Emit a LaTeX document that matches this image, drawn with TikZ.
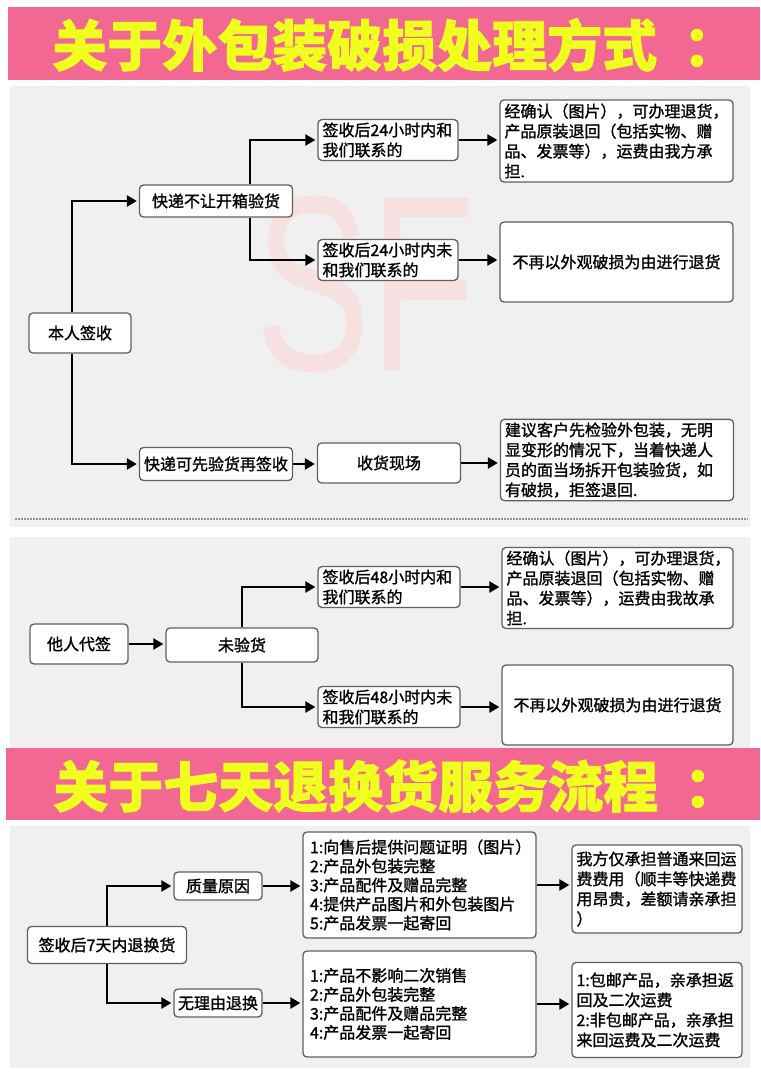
\documentclass[tikz,border=0pt]{standalone}
\usepackage{fontspec}
\setmainfont{Noto Sans CJK SC}[FakeBold=1.3]
\newfontfamily\bannerfont{Noto Sans CJK SC}[BoldFeatures={FakeBold=1.6}]
\newfontfamily\wmfont{Liberation Sans}
\usetikzlibrary{arrows.meta}
\definecolor{bannerpink}{RGB}{243,104,146}
\definecolor{banneryellow}{RGB}{240,255,30}
\definecolor{panelgray}{RGB}{240,240,240}
\definecolor{boxborder}{RGB}{96,96,96}
\definecolor{wmpink}{RGB}{246,224,224}
\definecolor{dotgray}{RGB}{150,150,150}
\begin{document}
\begin{tikzpicture}[x=1pt,y=-1pt,
  box/.style={draw=boxborder, line width=1.3pt, rounded corners=4pt, fill=white,
    inner xsep=4.5pt, inner ysep=3pt, font=\fontsize{16}{20}\selectfont},
  cbox/.style={box, align=center},
  lbox/.style={box, align=left},
  arr/.style={line width=2.4pt, -{Triangle[length=10pt,width=11pt]}, shorten >=2pt},
  bannertext/.style={font=\fontsize{55}{60}\selectfont\bannerfont\bfseries, text=banneryellow, anchor=west, inner sep=0pt},
  wm/.style={font=\fontsize{250}{250}\wmfont, text=wmpink}
]
\useasboundingbox (0,0) rectangle (760,1078);
\fill[white] (0,0) rectangle (760,1078);
% banners and panels
\fill[bannerpink] (8,7) rectangle (760,80);
\fill[panelgray] (10,86) rectangle (750,527);
\fill[panelgray] (10,537) rectangle (750,750);
\fill[bannerpink] (6,748) rectangle (760,820);
\fill[panelgray] (10,826) rectangle (750,1068);
\node[bannertext] (t1) at (52,45) {关于外包装破损处理方式\hspace{26pt}：};
\node[bannertext] (t2) at (53,786) {关于七天退换货服务流程\hspace{26pt}：};
% watermark
\node[wm] (wmark) at (366,284) {\scalebox{0.69}[1]{SF}};
% dotted separator
\coordinate (dl) at (15,519);
\coordinate (dr) at (748,519);
\draw[dotgray, line width=1.6pt, dash pattern=on 1.6pt off 1.4pt] (dl) -- (dr);

% ---------- section 1 ----------
\node[cbox, minimum width=102pt, minimum height=40pt] (n1) at (80,333) {本人签收};
\node[cbox, minimum width=153pt, minimum height=32pt] (n2) at (216,201) {快递不让开箱验货};
\node[lbox, text width=131pt, minimum height=40pt] (n3) at (388,140) {签收后24小时内和\\我们联系的};
\node[lbox, text width=224pt, minimum height=82pt] (n4) at (616.5,141) {经确认（图片），可办理退货，\\产品原装退回（包括实物、赠\\品、发票等），运费由我方承\\担.};
\node[lbox, text width=131pt, minimum height=40pt] (n5) at (388,260) {签收后24小时内未\\和我们联系的};
\node[cbox, minimum width=233pt, minimum height=80pt] (n6) at (616.5,262) {不再以外观破损为由进行退货};
\node[cbox, minimum width=152pt, minimum height=33pt] (n7) at (216,464) {快递可先验货再签收};
\node[cbox, minimum width=143pt, minimum height=40pt] (n8) at (389,463) {收货现场};
\node[lbox, text width=224pt, minimum height=80pt] (n9) at (617,460) {建议客户先检验外包装，无明\\显变形的情况下，当着快递人\\员的面当场拆开包装验货，如\\有破损，拒签退回.};
\coordinate (j1) at (72,0);
\coordinate (j2) at (250,0);
\draw[arr] (n1.north -| j1) |- (n2.west);
\draw[arr] (n1.south -| j1) |- (n7.west);
\draw[arr] (n2.north -| j2) |- (n3.west);
\draw[arr] (n2.south -| j2) |- (n5.west);
\draw[arr] (n3.east) -- (n3.east -| n4.west);
\draw[arr] (n5.east) -- (n5.east -| n6.west);
\draw[arr] (n7.east) -- (n7.east -| n8.west);
\draw[arr] (n8.east) -- (n8.east -| n9.west);

% ---------- section 2 ----------
\node[cbox, minimum width=98pt, minimum height=40pt] (m1) at (79,644) {他人代签};
\node[cbox, minimum width=152pt, minimum height=34pt] (m2) at (242,645) {未验货};
\node[lbox, text width=133pt, minimum height=37pt] (m3) at (389,587) {签收后48小时内和\\我们联系的};
\node[lbox, text width=222pt, minimum height=81pt] (m4) at (617.5,588) {经确认（图片），可办理退货，\\产品原装退回（包括实物、赠\\品、发票等），运费由我故承\\担.};
\node[lbox, text width=133pt, minimum height=39pt] (m5) at (389,707) {签收后48小时内未\\和我们联系的};
\node[cbox, minimum width=231pt, minimum height=80pt] (m6) at (617.5,705) {不再以外观破损为由进行退货};
\draw[arr] (m1.east) -- (m1.east -| m2.west);
\draw[arr] (m2.north) |- (m3.west);
\draw[arr] (m2.south) |- (m5.west);
\draw[arr] (m3.east) -- (m3.east -| m4.west);
\draw[arr] (m5.east) -- (m5.east -| m6.west);

% ---------- section 3 ----------
\node[cbox, minimum width=159pt, minimum height=37pt] (s1) at (107,945) {签收后7天内退换货};
\node[cbox, minimum width=88pt, minimum height=28pt, inner xsep=2pt] (s2) at (218,886) {质量原因};
\node[cbox, minimum width=88pt, minimum height=28pt, inner xsep=2pt] (s3) at (218,1003) {无理由退换};
\node[lbox, text width=219pt, inner xsep=7pt, minimum height=106pt, font=\fontsize{16}{19}\selectfont] (s4) at (419.5,885) {1:向售后提供问题证明（图片）\\2:产品外包装完整\\3:产品配件及赠品完整\\4:提供产品图片和外包装图片\\5:产品发票一起寄回};
\node[lbox, text width=219pt, inner xsep=7pt, minimum height=106pt, font=\fontsize{16}{19}\selectfont] (s5) at (419.5,1004) {1:产品不影响二次销售\\2:产品外包装完整\\3:产品配件及赠品完整\\4:产品发票一起寄回};
\node[lbox, text width=161pt, minimum height=88pt] (s6) at (657,889) {我方仅承担普通来回运\\费费用（顺丰等快递费\\用昂贵，差额请亲承担\\）};
\node[lbox, text width=161pt, minimum height=95pt] (s7) at (657,1010) {1:包邮产品，亲承担返\\回及二次运费\\2:非包邮产品，亲承担\\来回运费及二次运费};
\draw[arr] (s1.north) |- (s2.west);
\draw[arr] (s1.south) |- (s3.west);
\draw[arr] (s2.east) -- (s2.east -| s4.west);
\draw[arr] (s3.east) -- (s3.east -| s5.west);
\draw[arr] (s4.east) -- (s4.east -| s6.west);
\draw[arr] (s5.east) -- (s5.east -| s7.west);
\end{tikzpicture}
\end{document}
